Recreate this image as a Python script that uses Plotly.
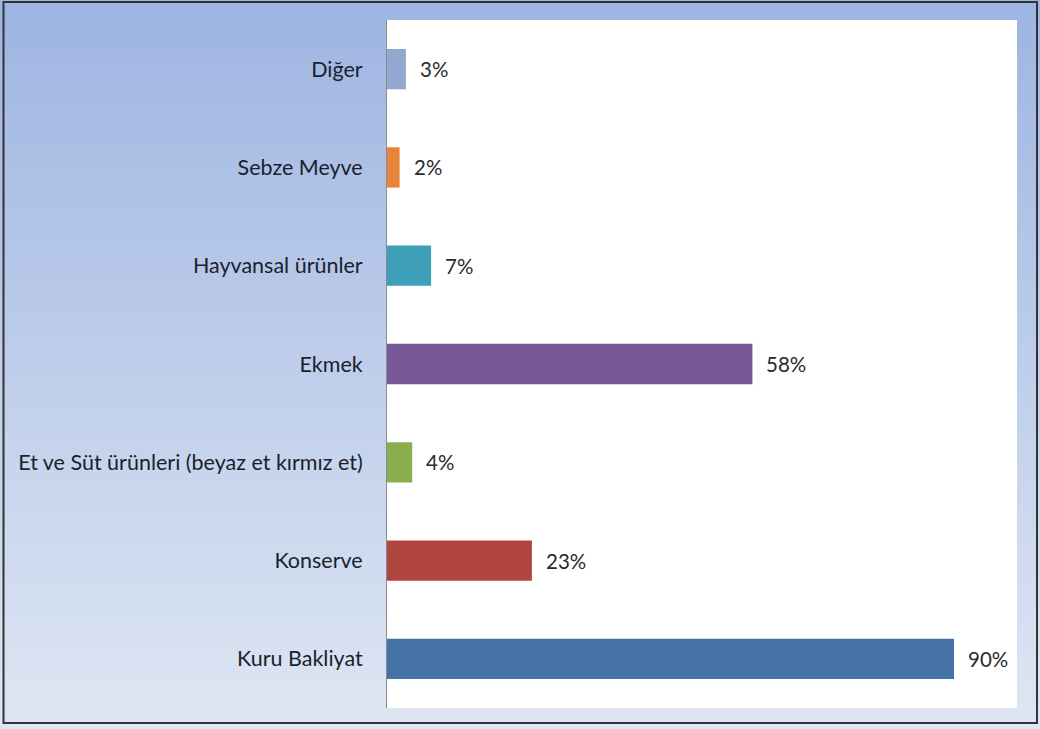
import plotly.graph_objects as go

categories = ["Kuru Bakliyat", "Konserve", "Et ve Süt ürünleri (beyaz et kırmız et)",
              "Ekmek", "Hayvansal ürünler", "Sebze Meyve", "Diğer"]
values = [90, 23, 4, 58, 7, 2, 3]
labels = ["90%", "23%", "4%", "58%", "7%", "2%", "3%"]
colors = ["#4573A8", "#B04540", "#8AAE4D", "#77599A", "#3E9FB8", "#E8843A", "#93A8D0"]

W, H = 1040, 729
L, R, T, B = 387, 23, 20, 21
pw, ph = W - L - R, H - T - B

def px_x(p):
    return (p - L) / pw

def px_y(p):
    return (H - B - p) / ph

fig = go.Figure()
fig.add_trace(go.Bar(
    y=categories, x=values, orientation="h",
    marker=dict(color=colors, line=dict(width=0)),
    hoverinfo="skip",
))

for c, v, t in zip(categories, values, labels):
    fig.add_annotation(x=v, y=c, text=t, showarrow=False, xanchor="left",
                       xshift=12, font=dict(family="Lato", size=20.5, color="#2a2a2a"))

# gradient background strips
top = (158, 181, 226)
bot = (222, 230, 243)
n = 80
shapes = []
for i in range(n):
    f = i / (n - 1)
    col = tuple(round(top[k] + (bot[k] - top[k]) * f) for k in range(3))
    y0p = i * H / n
    y1p = (i + 1) * H / n + 1
    shapes.append(dict(type="rect", xref="paper", yref="paper", layer="below",
                       x0=px_x(0), x1=px_x(W), y0=px_y(y1p), y1=px_y(y0p),
                       fillcolor="rgb(%d,%d,%d)" % col, line=dict(width=0)))
# white plot area
shapes.append(dict(type="rect", xref="paper", yref="paper", layer="below",
                   x0=0, x1=1, y0=0, y1=1, fillcolor="white", line=dict(width=0)))
# outer border
shapes.append(dict(type="rect", xref="paper", yref="paper", layer="above",
                   x0=px_x(3.5), x1=px_x(1037), y0=px_y(723), y1=px_y(2),
                   fillcolor="rgba(0,0,0,0)", line=dict(color="#333333", width=2)))

fig.update_layout(
    width=W, height=H,
    margin=dict(l=L, r=R, t=T, b=B, pad=0),
    paper_bgcolor="rgb(190,205,234)",
    plot_bgcolor="white",
    showlegend=False,
    bargap=0.59,
    shapes=shapes,
    xaxis=dict(range=[0, 100], visible=False, showgrid=False, zeroline=False),
    yaxis=dict(showline=True, linecolor="#8c8c8c", linewidth=1, showgrid=False,
               ticks="", ticklabelstandoff=19,
               tickfont=dict(family="Lato", size=21.5, color="#1a1f2e")),
)

fig.write_html("out.html", config={"displayModeBar": False},
               post_script="document.body.style.margin='0';document.body.style.overflow='hidden';")
